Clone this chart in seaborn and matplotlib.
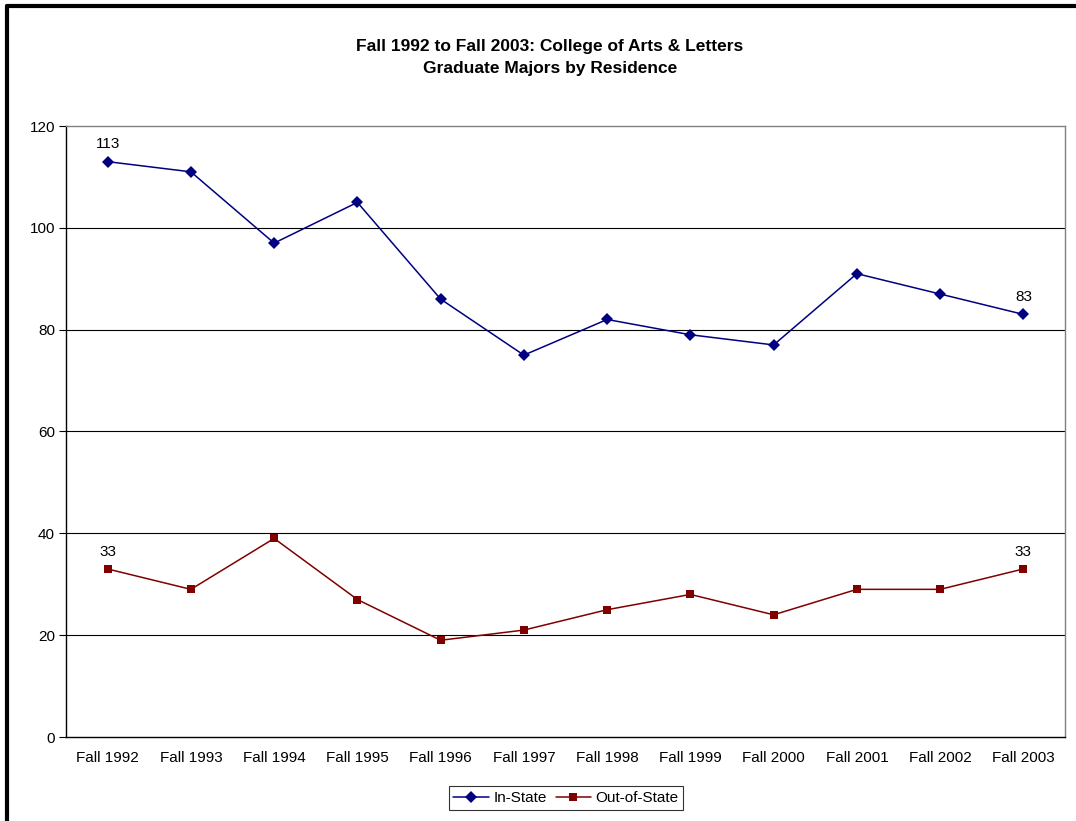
import matplotlib
matplotlib.use("Agg")
import matplotlib.pyplot as plt
import seaborn as sns
import pandas as pd
import numpy as np
from matplotlib.lines import Line2D

years = ["Fall 1992", "Fall 1993", "Fall 1994", "Fall 1995", "Fall 1996", "Fall 1997",
         "Fall 1998", "Fall 1999", "Fall 2000", "Fall 2001", "Fall 2002", "Fall 2003"]
in_state = [113, 111, 97, 105, 86, 75, 82, 79, 77, 91, 87, 83]
out_state = [33, 29, 39, 27, 19, 21, 25, 28, 24, 29, 29, 33]
series_names = ["In-State", "Out-of-State"]
colors = ["#000080", "#800000"]
title = "Fall 1992 to Fall 2003: College of Arts & Letters\nGraduate Majors by Residence"

sns.set_theme(style="white")
plt.rcParams["font.family"] = ["Liberation Sans", "DejaVu Sans"]
plt.rcParams["text.color"] = "black"
plt.rcParams["xtick.color"] = "black"
plt.rcParams["ytick.color"] = "black"
plt.rcParams["axes.labelcolor"] = "black"

df = pd.DataFrame({
    "x": list(range(len(years))) * 2,
    "value": in_state + out_state,
    "series": [series_names[0]] * len(years) + [series_names[1]] * len(years),
})

fig = plt.figure(figsize=(10.76, 8.21), dpi=100)
ax = fig.add_axes([66/1076, 1 - 737/821, (1065 - 66)/1076, (737 - 126)/821])

sns.lineplot(data=df, x="x", y="value", hue="series", style="series",
             markers={"In-State": "D", "Out-of-State": "s"}, dashes=False,
             palette=dict(zip(series_names, colors)), ax=ax, linewidth=1.1,
             markersize=6.3, markeredgewidth=0, legend=False)

ax.set_xlim(-0.5, len(years) - 0.5)
ax.set_ylim(0, 120)
ax.set_yticks(np.arange(0, 121, 20))
ax.set_xticks(range(len(years)))
ax.set_xticklabels(years, fontsize=11)
ax.set_xticks(np.arange(-0.5, len(years), 1), minor=True)
ax.tick_params(axis="x", which="major", length=0, pad=10, labelcolor="black")
ax.tick_params(axis="x", which="minor", length=5, width=0.8, color="black", direction="out")
ax.tick_params(axis="y", which="major", length=5, width=0.8, color="black", direction="out",
               labelsize=11, pad=3, left=True, labelcolor="black")
ax.set_xlabel("")
ax.set_ylabel("")
for v in range(20, 120, 20):
    ax.axhline(v, color="black", linewidth=0.8, zorder=0)
ax.spines["left"].set_color("black")
ax.spines["bottom"].set_color("black")
ax.spines["top"].set_color("#808080")
ax.spines["right"].set_color("#808080")
for s in ax.spines.values():
    s.set_linewidth(1.0)
    s.set_visible(True)

# data labels
for idx in [0, len(years) - 1]:
    ax.annotate(str(in_state[idx]), (idx, in_state[idx]), xytext=(0, 7.5),
                textcoords="offset points", ha="center", va="bottom", fontsize=11, color="black")
    ax.annotate(str(out_state[idx]), (idx, out_state[idx]), xytext=(0, 7.5),
                textcoords="offset points", ha="center", va="bottom", fontsize=11, color="black")

fig.text(550/1076, 1 - 57.5/821, title, ha="center", va="center", fontsize=12.5,
         fontweight="bold", linespacing=1.55, color="black")

handles = [Line2D([0], [0], color=colors[0], marker="D", markersize=6.3, markeredgewidth=0, linewidth=1.1),
           Line2D([0], [0], color=colors[1], marker="s", markersize=6.3, markeredgewidth=0, linewidth=1.1)]
leg = fig.legend(handles, series_names, loc="center", bbox_to_anchor=(566/1076, 1 - 798/821),
                 ncol=2, frameon=True, fancybox=False, fontsize=11, handlelength=2.3,
                 columnspacing=0.6, handletextpad=0.3, borderpad=0.3, edgecolor="black")
leg.get_frame().set_linewidth(0.8)
for t in leg.get_texts():
    t.set_color("black")

# outer chart border (left and top visible)
fig.add_artist(Line2D([7/1076, 7/1076], [0, 1 - 6/821], color="black", linewidth=3, transform=fig.transFigure))
fig.add_artist(Line2D([7/1076, 1], [1 - 6/821, 1 - 6/821], color="black", linewidth=3, transform=fig.transFigure))

fig.savefig("out.png", dpi=100)
